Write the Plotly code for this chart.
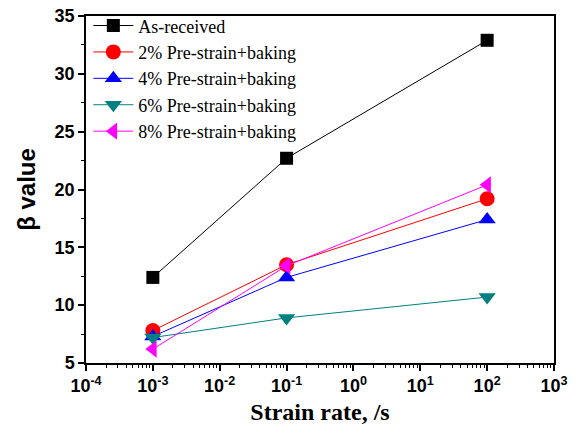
import plotly.graph_objects as go

strain_rate = [1e-3, 1e-1, 1e2]
series_names = ["As-received", "2% Pre-strain+baking", "4% Pre-strain+baking",
                "6% Pre-strain+baking", "8% Pre-strain+baking"]
as_received = [12.4, 22.7, 32.9]
pre2 = [7.8, 13.5, 19.2]
pre4 = [7.3, 12.4, 17.4]
pre6 = [7.2, 8.9, 10.7]
pre8 = [6.2, 13.4, 20.4]
x_tick_vals = [1e-4, 1e-3, 1e-2, 1e-1, 1e0, 1e1, 1e2, 1e3]
x_tick_text = ["<b>10<sup>-4</sup></b>", "<b>10<sup>-3</sup></b>", "<b>10<sup>-2</sup></b>",
               "<b>10<sup>-1</sup></b>", "<b>10<sup>0</sup></b>", "<b>10<sup>1</sup></b>",
               "<b>10<sup>2</sup></b>", "<b>10<sup>3</sup></b>"]

colors = ["#000000", "#ff0000", "#0000ff", "#008080", "#ff00ff"]
symbols = ["square", "circle", "triangle-up", "triangle-down", "triangle-left"]
data = [as_received, pre2, pre4, pre6, pre8]

fig = go.Figure()
for name, ys, c, s in zip(series_names, data, colors, symbols):
    fig.add_trace(go.Scatter(
        x=strain_rate, y=ys, name=name, mode="lines+markers",
        line=dict(color=c, width=1),
        marker=dict(symbol=s, size=15 if s != "square" else 13, color=c),
    ))

axis_font = dict(family="Arial, Liberation Sans", size=18, color="black", weight="bold")
fig.update_layout(
    width=578, height=436,
    margin=dict(l=86, r=24, t=16, b=73, autoexpand=False),
    plot_bgcolor="white", paper_bgcolor="white",
    showlegend=True,
    legend=dict(x=0.005, y=1.025, xanchor="left", yanchor="top",
                font=dict(family="Liberation Serif, Times New Roman", size=18, color="black"),
                bgcolor="rgba(255,255,255,0)", borderwidth=0,
                tracegroupgap=0, itemwidth=40),
    xaxis=dict(
        type="log", range=[-4, 3], automargin=False,
        tickmode="array", tickvals=x_tick_vals, ticktext=x_tick_text,
        ticks="outside", ticklen=6, tickwidth=1.5, tickcolor="black",
        showline=True, linecolor="black", linewidth=1.5, mirror=True,
        showgrid=False, zeroline=False,
        tickfont=axis_font,
        minor=dict(ticks="outside", ticklen=3, tickwidth=1, tickcolor="black", dtick="D1", showgrid=False),
        title=dict(text="<b>Strain rate, /s</b>",
                   font=dict(family="Liberation Serif, Times New Roman", size=24, color="black"),
                   standoff=8),
    ),
    yaxis=dict(
        range=[5, 35], dtick=5, tick0=5, automargin=False,
        ticks="outside", ticklen=6, tickwidth=1.5, tickcolor="black",
        showline=True, linecolor="black", linewidth=1.5, mirror=True,
        showgrid=False, zeroline=False,
        tickfont=axis_font,
        minor=dict(ticks="outside", ticklen=3, tickwidth=1, tickcolor="black", dtick=2.5, showgrid=False),
        title=dict(text="<b>β value</b>",
                   font=dict(family="Arial, Liberation Sans", size=24, color="black"),
                   standoff=12),
    ),
)
fig.write_html("out.html", config={"displayModeBar": False},
               post_script="document.body.style.margin='0';document.body.style.overflow='hidden';")
